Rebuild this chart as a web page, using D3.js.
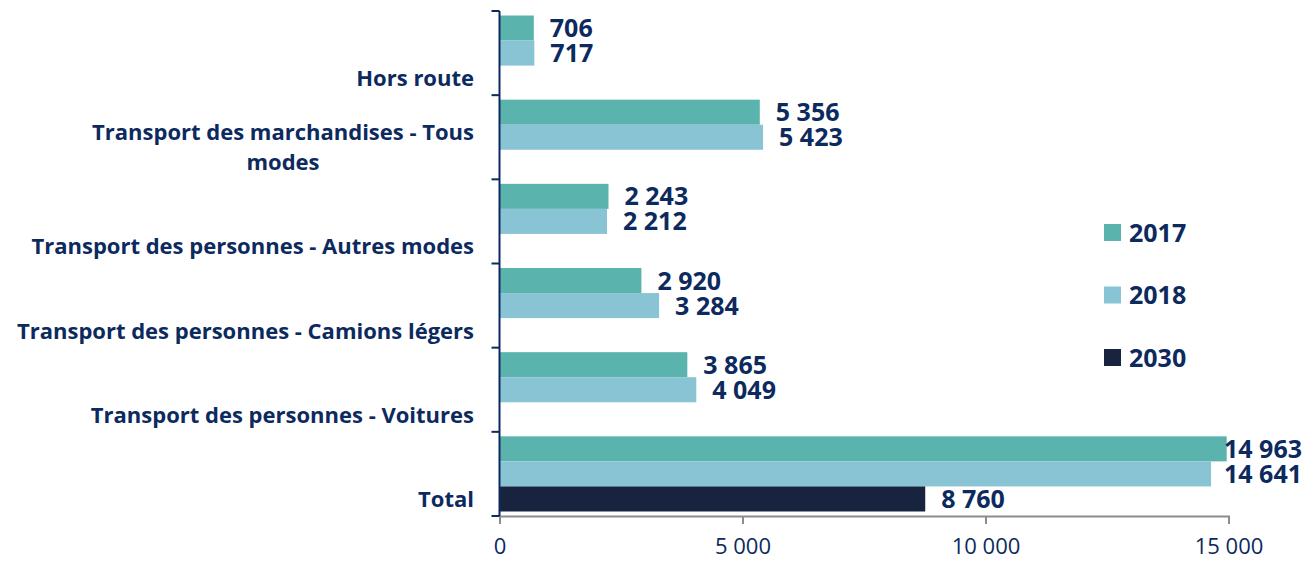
<!DOCTYPE html>
<html>
<head>
<meta charset="utf-8">
<script src="https://cdn.jsdelivr.net/npm/d3@7"></script>
<style>
  body { margin: 0; background: #fff; }
  svg { display: block; font-family: "Open Sans", Lato, sans-serif; }
</style>
</head>
<body>
<div id="chart"></div>
<script>
// chart data
const categories = [
  ['Hors route'],
  ['Transport des marchandises - Tous', 'modes'],
  ['Transport des personnes - Autres modes'],
  ['Transport des personnes - Camions légers'],
  ['Transport des personnes - Voitures'],
  ['Total']
];
const seriesNames = ['2017', '2018', '2030'];
const values2017 = [706, 5356, 2243, 2920, 3865, 14963];
const values2018 = [717, 5423, 2212, 3284, 4049, 14641];
const values2030 = [null, null, null, null, null, 8760];
const xTicks = [0, 5000, 10000, 15000];

const colors = { '2017': '#5bb3ad', '2018': '#88c4d4', '2030': '#18233f' };
const textColor = '#0c2a5e';

const width = 1315, height = 562;
const margin = { top: 11, left: 499.5, right: 86.5, bottom: 46 };
const labelRight = 1302;

const svg = d3.select('#chart').append('svg')
  .attr('width', width).attr('height', height);

const catKeys = categories.map((c, i) => i);
const y = d3.scaleBand().domain(catKeys)
  .range([margin.top, height - margin.bottom]).padding(0);
const ySub = d3.scaleBand().domain(seriesNames)
  .range([0, y.bandwidth()]).paddingInner(0).paddingOuter(0.18);
const x = d3.scaleLinear().domain([0, 15000])
  .range([margin.left, width - margin.right]);

const fmt = v => d3.format(',')(v).replace(/,/g, ' ');

const rows = [];
catKeys.forEach(i => {
  [values2017, values2018, values2030].forEach((arr, s) => {
    if (arr[i] != null) rows.push({ cat: i, key: seriesNames[s], value: arr[i] });
  });
});

// bars
svg.append('g').selectAll('rect').data(rows).enter().append('rect')
  .attr('x', x(0))
  .attr('y', d => y(d.cat) + ySub(d.key))
  .attr('width', d => x(d.value) - x(0))
  .attr('height', ySub.bandwidth())
  .attr('fill', d => colors[d.key]);

// value labels
const vl = svg.append('g').selectAll('text').data(rows).enter().append('text')
  .attr('y', d => y(d.cat) + ySub(d.key) + ySub.bandwidth() / 2)
  .attr('dy', '0.36em')
  .attr('fill', textColor)
  .attr('font-weight', 700)
  .attr('font-size', 25)
  .text(d => fmt(d.value));
vl.attr('x', function(d) {
  const w = this.getComputedTextLength();
  return Math.min(x(d.value) + 16, labelRight - w);
});

// x axis
const xAxisY = height - margin.bottom;
const xg = svg.append('g').attr('transform', `translate(0,${xAxisY})`)
  .call(d3.axisBottom(x).tickValues(xTicks).tickSize(8).tickPadding(14).tickFormat(fmt));
xg.select('.domain').attr('stroke', '#8c8c8c').attr('stroke-width', 2);
xg.selectAll('.tick line').attr('stroke', '#8c8c8c').attr('stroke-width', 2);
xg.selectAll('.tick text')
  .attr('fill', textColor).attr('font-size', 22)
  .attr('font-family', '"Open Sans", Lato, sans-serif');

// y axis (ticks between categories)
const yg = svg.append('g');
yg.append('line')
  .attr('x1', x(0)).attr('x2', x(0))
  .attr('y1', y.range()[0]).attr('y2', y.range()[1])
  .attr('stroke', '#0c2a5e').attr('stroke-width', 2);
const bounds = catKeys.map(i => y(i)).concat([y.range()[1]]);
yg.selectAll('line.tk').data(bounds).enter().append('line')
  .attr('class', 'tk')
  .attr('x1', x(0) - 8).attr('x2', x(0))
  .attr('y1', d => d).attr('y2', d => d)
  .attr('stroke', '#0c2a5e').attr('stroke-width', 2);

// category labels: last line sits at the third slot
const lineH = 30;
const catG = svg.append('g').selectAll('g').data(categories).enter().append('g');
catG.each(function(lines, i) {
  const g = d3.select(this);
  const baseY = y(i) + ySub('2030') + ySub.bandwidth() / 2;
  const texts = g.selectAll('text').data(lines).enter().append('text')
    .attr('y', (l, j) => baseY - (lines.length - 1 - j) * lineH)
    .attr('dy', '0.36em')
    .attr('fill', textColor)
    .attr('font-weight', 700)
    .attr('font-size', 22)
    .text(l => l);
  let maxW = 0;
  texts.each(function() { maxW = Math.max(maxW, this.getComputedTextLength()); });
  const center = 474 - maxW / 2;
  texts.attr('x', center).attr('text-anchor', 'middle');
});

// legend
const legend = svg.append('g').selectAll('g').data(seriesNames).enter().append('g')
  .attr('transform', (d, i) => `translate(1104,${224 + i * 62.5})`);
legend.append('rect').attr('width', 17).attr('height', 17).attr('fill', d => colors[d]);
legend.append('text')
  .attr('x', 25).attr('y', 8.5).attr('dy', '0.36em')
  .attr('fill', textColor).attr('font-weight', 700).attr('font-size', 25)
  .text(d => d);
</script>
</body>
</html>
